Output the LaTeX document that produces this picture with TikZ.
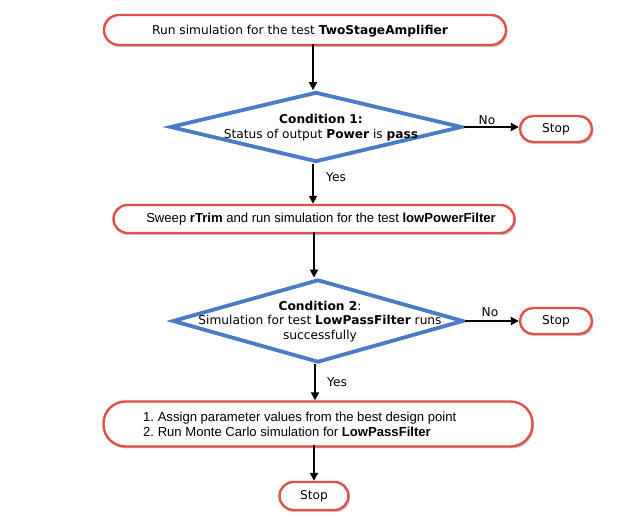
\documentclass[tikz,border=0pt]{standalone}
\usepackage{fontspec}
\setmainfont{DejaVu Sans}
\newfontfamily\arialf{Liberation Sans}
\usetikzlibrary{shapes.geometric,shadows,arrows.meta}
\definecolor{redb}{HTML}{E0504C}
\definecolor{blueb}{HTML}{4A7BC8}
\begin{document}
\begin{tikzpicture}[x=1pt,y=-1pt,
  term/.style={draw=redb, line width=2.4pt, fill=white, inner sep=0pt,
    drop shadow={shadow xshift=1.5pt, shadow yshift=-2pt, opacity=0.35, fill=black!60}},
  cond/.style={shape=diamond, draw=blueb, line width=3.8pt, fill=white, inner sep=0pt, aspect=4},
  flow/.style={line width=1.8pt, -{Triangle[length=8pt,width=8pt]}},
  lbl/.style={font=\fontsize{12.2}{14}\selectfont, inner sep=0pt},
  txt/.style={font=\fontsize{12.2}{14.8}\selectfont, align=center, inner sep=0pt},
  atxt/.style={font=\arialf\fontsize{13.1}{14.5}\selectfont, inner sep=0pt}
]
\useasboundingbox (0,0) rectangle (632,526);
\fill[white] (0,0) rectangle (632,526);

% top box
\node[term, minimum width=402pt, minimum height=30pt, rounded corners=15pt] (b1) at (305,30) {};
\node[txt] (b1t) at (300,31) {Run simulation for the test \textbf{TwoStageAmplifier}};

% diamond 1
\node[cond, minimum width=292pt, minimum height=70pt] (d1) at (316,127) {};
\node[txt] (d1t) at (321,127.5) {\textbf{Condition 1:}\\Status of output \textbf{Power} is \textbf{pass}};
\node[term, minimum width=72pt, minimum height=26pt, rounded corners=13pt] (s1) at (556,129) {};
\node[lbl] (s1t) at (556,129.5) {Stop};

% box 2
\node[term, minimum width=401pt, minimum height=28pt, rounded corners=14pt] (b2) at (314,219) {};
\node[atxt] (b2t) at (321,219.5) {Sweep \textbf{rTrim} and run simulation for the test \textbf{lowPowerFilter}};

% diamond 2
\node[cond, minimum width=291pt, minimum height=83pt] (d2) at (318,321) {};
\node[txt] (d2t) at (320,321.5) {\textbf{Condition 2}:\\Simulation for test \textbf{LowPassFilter} runs\\successfully};
\node[term, minimum width=72pt, minimum height=26pt, rounded corners=13pt] (s2) at (556,321) {};
\node[lbl] (s2t) at (556,321.5) {Stop};

% box 3
\node[term, minimum width=429pt, minimum height=45pt, rounded corners=22pt] (b3) at (318,424) {};
\node[atxt, align=left, anchor=west] (b3t) at (143,424.5) {1.\ Assign parameter values from the best design point\\2.\ Run Monte Carlo simulation for \textbf{LowPassFilter}};

% final stop
\node[term, minimum width=69pt, minimum height=28pt, rounded corners=14pt] (s3) at (314,496) {};
\node[lbl] (s3t) at (314,496.5) {Stop};

% connectors
\draw[flow] (b1.south -| 313,0) ++(0,2pt) -- (d1.north -| 313,0);
\draw[flow] (d1.east) -- (s1.west |- d1.east);
\node[lbl] (no1) at (487,120) {No};
\draw[flow] (d1.south -| 313,0) -- (b2.north -| 313,0);
\node[lbl] (yes1) at (336,177) {Yes};
\draw[flow] (b2.south -| 314,0) ++(0,2pt) -- (d2.north -| 314,0);
\draw[flow] (d2.east) -- (s2.west |- d2.east);
\node[lbl] (no2) at (490,312) {No};
\draw[flow] (d2.south -| 315,0) -- (b3.north -| 315,0);
\node[lbl] (yes2) at (337,382) {Yes};
\draw[flow] (b3.south -| 314,0) ++(0,3pt) -- (s3.north);
\end{tikzpicture}
\end{document}
